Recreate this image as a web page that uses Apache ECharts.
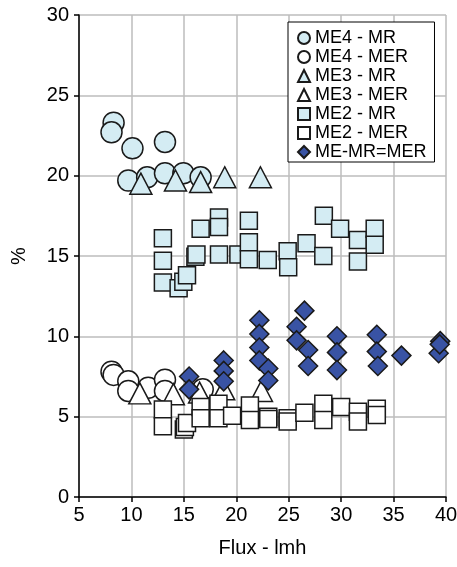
<!DOCTYPE html>
<html>
<head>
<meta charset="utf-8">
<script src="https://cdn.jsdelivr.net/npm/echarts@6/dist/echarts.min.js"></script>
<style>
  html, body { margin: 0; padding: 0; background: #fff; }
  #chart { width: 457px; height: 567px; }
</style>
</head>
<body>
<div id="chart"></div>
<script>
// Permeate share (%) versus flux (lmh) for the three membrane elements
const xTicks = [5, 10, 15, 20, 25, 30, 35, 40];
const yTicks = [0, 5, 10, 15, 20, 25, 30];

const me4MR = [[8.3, 23.3], [8.1, 22.7], [10.1, 21.7], [13.2, 22.1], [9.7, 19.7], [11.5, 19.9],
  [13.2, 20.15], [14.95, 20.15], [16.6, 19.9]];
const me4MER = [[8.1, 7.8], [8.3, 7.6], [9.7, 7.2], [9.7, 6.6], [11.6, 6.8], [13.2, 7.3],
  [13.2, 6.6], [16.8, 6.7]];
const me3MR = [[10.9, 19.5], [14.2, 19.7], [16.6, 19.6], [18.9, 19.9], [22.3, 19.9]];
const me3MER = [[10.8, 6.45], [14.0, 6.4], [16.5, 6.5], [18.8, 6.7], [22.4, 6.6]];
const me2MR = [[13.0, 16.1], [13.0, 14.7], [13.0, 13.35], [14.5, 13.0], [14.95, 13.4], [15.3, 13.8],
  [16.1, 14.95], [16.2, 15.1], [16.6, 16.7], [18.35, 17.4], [18.35, 16.8], [18.35, 15.1],
  [20.2, 15.1], [21.2, 17.2], [21.2, 15.85], [21.2, 14.8], [23.0, 14.75], [24.9, 15.3],
  [24.95, 14.3], [26.7, 15.8], [28.3, 15.0], [28.35, 17.5], [29.9, 16.7], [31.6, 16.0],
  [31.6, 14.65], [33.2, 16.7], [33.2, 15.7]];
const me2MER = [[13.0, 5.45], [13.0, 4.4], [15.0, 4.2], [15.1, 4.35], [15.3, 4.6], [16.6, 5.6],
  [16.6, 4.9], [18.3, 5.8], [18.3, 4.9], [19.6, 5.05], [21.3, 5.7], [21.3, 4.8], [23.05, 5.0],
  [23.05, 4.85], [24.9, 4.9], [24.9, 4.7], [26.5, 5.25], [28.3, 5.8], [28.3, 4.8], [30.0, 5.6],
  [31.6, 5.3], [31.6, 4.7], [33.4, 5.5], [33.4, 5.1]];
const meEqual = [[15.5, 7.5], [15.5, 6.7], [18.8, 8.5], [18.8, 7.85], [18.8, 7.2], [22.2, 11.0],
  [22.2, 10.15], [22.2, 9.3], [22.2, 8.5], [23.05, 8.0], [23.05, 7.25], [26.5, 11.6],
  [25.75, 10.6], [25.75, 9.75], [26.85, 9.15], [26.85, 8.15], [29.6, 10.0], [29.6, 9.0],
  [29.6, 7.9], [33.4, 10.1], [33.4, 9.05], [33.5, 8.15], [35.75, 8.8], [39.45, 9.7],
  [39.3, 8.95], [39.4, 9.5]];

const FONT = '"Liberation Sans", Arial, Helvetica, sans-serif';
const LIGHT = '#d4ecf3';
const NAVY = '#3953a4';
const EDGE = '#1a1a1a';

function scatter(name, data, symbol, size, fill, z) {
  return {
    name, type: 'scatter', data, symbol, symbolSize: size, z,
    itemStyle: { color: fill, borderColor: EDGE, borderWidth: 1.5, opacity: 1 },
    emphasis: { disabled: true },
    animation: false
  };
}

const chart = echarts.init(document.getElementById('chart'), null, { renderer: 'canvas' });
chart.setOption({
  backgroundColor: '#fff',
  animation: false,
  grid: { left: 79, right: 11, top: 15, bottom: 70, containLabel: false, outerBoundsMode: 'none' },
  legend: {
    orient: 'vertical', left: 288, top: 22,
    width: 149,
    backgroundColor: '#fff',
    borderColor: '#000', borderWidth: 1,
    padding: [7, 8, 1, 9],
    itemWidth: 12, itemHeight: 12, itemGap: 1, itemTextGap: 7,
    textStyle: { fontFamily: FONT, fontSize: 18, color: '#000', lineHeight: 18 },
    data: [
      { name: 'ME4 - MR' }, { name: 'ME4 - MER' }, { name: 'ME3 - MR' }, { name: 'ME3 - MER' },
      { name: 'ME2 - MR' }, { name: 'ME2 - MER' }, { name: 'ME-MR=MER' }
    ],
    z: 10
  },
  xAxis: {
    type: 'value', min: xTicks[0], max: xTicks[xTicks.length - 1], interval: 5,
    name: 'Flux - lmh', nameLocation: 'middle', nameGap: 41,
    nameTextStyle: { fontFamily: FONT, fontSize: 20, color: '#000' },
    axisLine: { onZero: false, lineStyle: { color: '#000', width: 1.5 } },
    axisTick: { show: true, inside: false, length: 5, lineStyle: { color: '#000', width: 1.5 } },
    axisLabel: { margin: 8, fontFamily: FONT, fontSize: 20, color: '#000' },
    splitLine: { show: true, lineStyle: { color: '#bcbcbc', width: 1.5 } }
  },
  yAxis: {
    type: 'value', min: yTicks[0], max: yTicks[yTicks.length - 1], interval: 5,
    name: '%', nameLocation: 'middle', nameGap: 50, nameRotate: 90,
    nameTextStyle: { fontFamily: FONT, fontSize: 20, color: '#000' },
    axisLine: { show: true, onZero: false, lineStyle: { color: '#000', width: 1.5 } },
    axisTick: { show: true, inside: false, length: 5, lineStyle: { color: '#000', width: 1.5 } },
    axisLabel: { margin: 10, fontFamily: FONT, fontSize: 20, color: '#000' },
    splitLine: { show: true, lineStyle: { color: '#bcbcbc', width: 1.5 } }
  },
  series: [
    scatter('ME4 - MR', me4MR, 'circle', 21, LIGHT, 2),
    scatter('ME4 - MER', me4MER, 'circle', 21, '#fff', 2),
    scatter('ME3 - MR', me3MR, 'triangle', [22, 21], LIGHT, 3),
    scatter('ME3 - MER', me3MER, 'triangle', [22, 21], '#fff', 3),
    scatter('ME2 - MR', me2MR, 'rect', 17, LIGHT, 5),
    scatter('ME2 - MER', me2MER, 'rect', 17, '#fff', 5),
    scatter('ME-MR=MER', meEqual, 'diamond', 19, NAVY, 4)
  ]
});
</script>
</body>
</html>
